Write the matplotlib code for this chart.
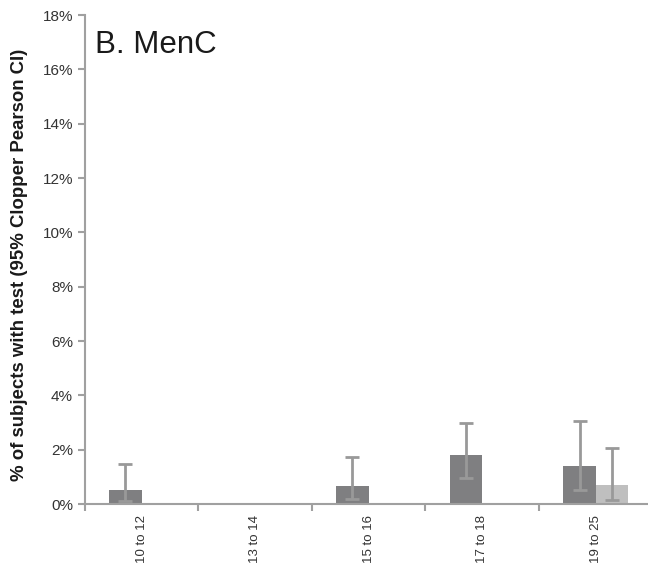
import matplotlib
matplotlib.use("Agg")
import matplotlib.pyplot as plt
import numpy as np

# age groups and % with test (95% Clopper Pearson CI)
categories = ['10 to 12', '13 to 14', '15 to 16', '17 to 18', '19 to 25']
dark_vals = [0.50, 0.0, 0.65, 1.79, 1.40]
dark_lo = [0.10, 0.0, 0.18, 0.97, 0.51]
dark_hi = [1.49, 0.0, 1.72, 2.97, 3.04]
light_vals = [0.0, 0.0, 0.0, 0.0, 0.70]
light_lo = [0.0, 0.0, 0.0, 0.0, 0.15]
light_hi = [0.0, 0.0, 0.0, 0.0, 2.07]
yticks = [0, 2, 4, 6, 8, 10, 12, 14, 16, 18]

plt.rcParams['font.family'] = ['Liberation Sans', 'DejaVu Sans']

fig = plt.figure(figsize=(6.48, 5.69), dpi=100)
ax = fig.add_axes([0.131, 0.1142, 0.876, 0.8594])

x = np.arange(len(categories)) + 0.5
w = 0.2857
axis_col = '#a0a0a0'
err_col = '#999999'

def draw(offset, vals, lo, hi, color):
    vals = np.array(vals)
    has = vals > 0
    ax.bar(x + offset, vals, width=w, align='edge', color=color, zorder=2)
    err = np.array([vals - np.array(lo), np.array(hi) - vals])
    ax.errorbar((x + offset + w / 2)[has], vals[has], yerr=err[:, has],
                fmt='none', ecolor=err_col, elinewidth=2, capsize=5,
                capthick=2, zorder=3)

draw(-w, dark_vals, dark_lo, dark_hi, '#7f7f81')
draw(0, light_vals, light_lo, light_hi, '#bfbfbf')

ax.set_xlim(0, len(categories))
ax.set_ylim(0, 18)
ax.set_yticks(yticks)
ax.set_yticklabels([f'{v}%' for v in yticks], fontsize=11, color='#333333')
ax.set_xticks(np.arange(len(categories) + 1))
ax.set_xticklabels([])
ax.set_xticks(x, minor=True)
ax.set_xticklabels(categories, minor=True, rotation=90, fontsize=9.5, color='#333333')
ax.tick_params(axis='x', which='minor', length=0, pad=8)
ax.tick_params(axis='x', which='major', length=5, color=axis_col, width=1.5)
ax.tick_params(axis='y', length=5, color=axis_col, width=1.5)

for s in ['top', 'right']:
    ax.spines[s].set_visible(False)
for s in ['left', 'bottom']:
    ax.spines[s].set_color(axis_col)
    ax.spines[s].set_linewidth(1.5)

ax.set_ylabel('% of subjects with test (95% Clopper Pearson CI)',
              fontsize=13.4, fontweight='bold', color='#1a1a1a')
ax.yaxis.set_label_coords(-0.101, 0.49)
ax.text(0.09, 16.6, 'B. MenC', fontsize=22.5, color='#1a1a1a', va='baseline')

fig.savefig('out.png', dpi=100)
